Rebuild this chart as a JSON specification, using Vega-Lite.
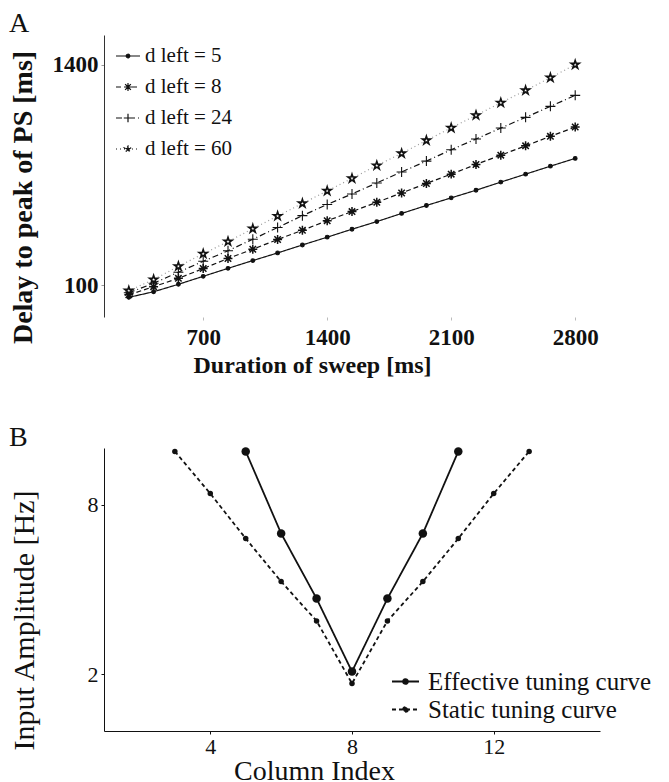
{
  "$schema": "https://vega.github.io/schema/vega-lite/v6.json",
  "background": "white",
  "padding": {"left": 9, "top": 10, "right": 5, "bottom": 0},
  "bounds": "flush",
  "spacing": 131,
  "resolve": {
    "scale": {"strokeDash": "independent"},
    "legend": {"strokeDash": "independent"}
  },
  "config": {
    "font": "Liberation Serif",
    "view": {"stroke": null},
    "axis": {"grid": false, "labelColor": "#111", "titleColor": "#111", "domainColor": "#111", "tickColor": "#111"}
  },
  "vconcat": [
    {
      "width": 496,
      "height": 282,
      "title": {"text": "A", "anchor": "start", "fontSize": 28, "fontWeight": "normal", "offset": -3, "color": "#111"},
      "data": {
        "values": [
          {"duration": 280, "delay": 29, "dleft": "5"}, {"duration": 420, "delay": 62, "dleft": "5"}, {"duration": 560, "delay": 106, "dleft": "5"}, {"duration": 700, "delay": 153, "dleft": "5"}, {"duration": 840, "delay": 200, "dleft": "5"}, {"duration": 980, "delay": 246, "dleft": "5"}, {"duration": 1120, "delay": 291, "dleft": "5"}, {"duration": 1260, "delay": 338, "dleft": "5"}, {"duration": 1400, "delay": 384, "dleft": "5"}, {"duration": 1540, "delay": 431, "dleft": "5"}, {"duration": 1680, "delay": 476, "dleft": "5"}, {"duration": 1820, "delay": 524, "dleft": "5"}, {"duration": 1960, "delay": 571, "dleft": "5"}, {"duration": 2100, "delay": 616, "dleft": "5"}, {"duration": 2240, "delay": 661, "dleft": "5"}, {"duration": 2380, "delay": 709, "dleft": "5"}, {"duration": 2520, "delay": 756, "dleft": "5"}, {"duration": 2660, "delay": 803, "dleft": "5"}, {"duration": 2800, "delay": 849, "dleft": "5"},
          {"duration": 280, "delay": 44, "dleft": "8"}, {"duration": 420, "delay": 92, "dleft": "8"}, {"duration": 560, "delay": 141, "dleft": "8"}, {"duration": 700, "delay": 199, "dleft": "8"}, {"duration": 840, "delay": 258, "dleft": "8"}, {"duration": 980, "delay": 313, "dleft": "8"}, {"duration": 1120, "delay": 370, "dleft": "8"}, {"duration": 1260, "delay": 425, "dleft": "8"}, {"duration": 1400, "delay": 481, "dleft": "8"}, {"duration": 1540, "delay": 535, "dleft": "8"}, {"duration": 1680, "delay": 590, "dleft": "8"}, {"duration": 1820, "delay": 645, "dleft": "8"}, {"duration": 1960, "delay": 701, "dleft": "8"}, {"duration": 2100, "delay": 756, "dleft": "8"}, {"duration": 2240, "delay": 813, "dleft": "8"}, {"duration": 2380, "delay": 868, "dleft": "8"}, {"duration": 2520, "delay": 923, "dleft": "8"}, {"duration": 2660, "delay": 979, "dleft": "8"}, {"duration": 2800, "delay": 1034, "dleft": "8"},
          {"duration": 280, "delay": 56, "dleft": "24"}, {"duration": 420, "delay": 112, "dleft": "24"}, {"duration": 560, "delay": 177, "dleft": "24"}, {"duration": 700, "delay": 242, "dleft": "24"}, {"duration": 840, "delay": 304, "dleft": "24"}, {"duration": 980, "delay": 372, "dleft": "24"}, {"duration": 1120, "delay": 441, "dleft": "24"}, {"duration": 1260, "delay": 511, "dleft": "24"}, {"duration": 1400, "delay": 577, "dleft": "24"}, {"duration": 1540, "delay": 639, "dleft": "24"}, {"duration": 1680, "delay": 704, "dleft": "24"}, {"duration": 1820, "delay": 769, "dleft": "24"}, {"duration": 1960, "delay": 833, "dleft": "24"}, {"duration": 2100, "delay": 900, "dleft": "24"}, {"duration": 2240, "delay": 963, "dleft": "24"}, {"duration": 2380, "delay": 1028, "dleft": "24"}, {"duration": 2520, "delay": 1091, "dleft": "24"}, {"duration": 2660, "delay": 1156, "dleft": "24"}, {"duration": 2800, "delay": 1221, "dleft": "24"},
          {"duration": 280, "delay": 68, "dleft": "60"}, {"duration": 420, "delay": 134, "dleft": "60"}, {"duration": 560, "delay": 212, "dleft": "60"}, {"duration": 700, "delay": 286, "dleft": "60"}, {"duration": 840, "delay": 358, "dleft": "60"}, {"duration": 980, "delay": 434, "dleft": "60"}, {"duration": 1120, "delay": 509, "dleft": "60"}, {"duration": 1260, "delay": 583, "dleft": "60"}, {"duration": 1400, "delay": 657, "dleft": "60"}, {"duration": 1540, "delay": 731, "dleft": "60"}, {"duration": 1680, "delay": 807, "dleft": "60"}, {"duration": 1820, "delay": 878, "dleft": "60"}, {"duration": 1960, "delay": 955, "dleft": "60"}, {"duration": 2100, "delay": 1029, "dleft": "60"}, {"duration": 2240, "delay": 1103, "dleft": "60"}, {"duration": 2380, "delay": 1177, "dleft": "60"}, {"duration": 2520, "delay": 1250, "dleft": "60"}, {"duration": 2660, "delay": 1325, "dleft": "60"}, {"duration": 2800, "delay": 1402, "dleft": "60"}
        ]
      },
      "encoding": {
        "x": {
          "field": "duration", "type": "quantitative",
          "scale": {"domain": [140, 2940], "nice": false, "zero": false},
          "axis": {"title": "Duration of sweep [ms]", "values": [700, 1400, 2100, 2800], "format": "d", "domain": false, "tickSize": 3, "tickColor": "#bbb", "labelFontSize": 23, "labelFontWeight": "bold", "labelPadding": 6, "titleFontSize": 24, "titleFontWeight": "bold", "titlePadding": 4, "titleX": 208}
        },
        "y": {
          "field": "delay", "type": "quantitative",
          "scale": {"domain": [-87, 1577], "nice": false, "zero": false},
          "axis": {"title": "Delay to peak of PS [ms]", "values": [100, 1400], "format": "d", "tickSize": 3, "tickColor": "#999", "domainColor": "#333", "labelFontSize": 23, "labelFontWeight": "bold", "labelPadding": 3, "titleFontSize": 28, "titleFontWeight": "bold", "titlePadding": 15, "titleY": 162}
        }
      },
      "layer": [
        {
          "mark": {"type": "line", "strokeWidth": 1.2},
          "encoding": {
            "stroke": {"condition": {"test": "datum.dleft === '60'", "value": "#999"}, "value": "#111"},
            "strokeDash": {
              "field": "dleft", "type": "nominal",
              "scale": {"domain": ["5", "8", "24", "60"], "range": [[1, 0], [5, 3], [6, 3, 1, 3], [1, 3]]},
              "legend": {
                "orient": "none", "legendX": 11, "legendY": 8, "title": null, "padding": 0,
                "symbolSize": 576, "labelExpr": "'d left = ' + datum.label", "labelFontSize": 21, "labelOffset": 4, "rowPadding": 8, "labelColor": "#111",
                "symbolStrokeColor": "#111", "symbolFillColor": "#111", "symbolStrokeWidth": 1.2,
                "symbolType": {"expr": "datum.value === '5' ? 'M-1,0L1,0M0.15,0A0.15,0.15,0,1,1,-0.15,0A0.15,0.15,0,1,1,0.15,0Z' : datum.value === '8' ? 'M-1,0L1,0M0,0L0.33,0M0,0L-0.33,0M0,0L0,0.33M0,0L0,-0.33M0,0L0.24,0.24M0,0L-0.24,-0.24M0,0L-0.24,0.24M0,0L0.24,-0.24' : datum.value === '24' ? 'M-1,0L1,0M0,0L0.35,0M0,0L-0.35,0M0,0L0,0.35M0,0L0,-0.35' : 'M-1,0L1,0M0,-0.3L0.067,-0.093L0.285,-0.093L0.109,0.035L0.176,0.243L0,0.115L-0.176,0.243L-0.109,0.035L-0.285,-0.093L-0.067,-0.093Z'"}
              }
            }
          }
        },
        {
          "mark": {"type": "point", "opacity": 1, "stroke": "#111"},
          "encoding": {
            "shape": {
              "condition": [
                {"test": "datum.dleft === '5'", "value": "circle"},
                {"test": "datum.dleft === '8'", "value": "M-1,0L1,0M0,-1L0,1M-0.72,-0.72L0.72,0.72M-0.72,0.72L0.72,-0.72"},
                {"test": "datum.dleft === '24'", "value": "M-1,0L1,0M0,-1L0,1"}
              ],
              "value": "M0,-1L0.2245,-0.309L0.951,-0.309L0.363,0.118L0.588,0.809L0,0.382L-0.588,0.809L-0.363,0.118L-0.951,-0.309L-0.2245,-0.309Z"
            },
            "size": {
              "condition": [
                {"test": "datum.dleft === '5'", "value": 14},
                {"test": "datum.dleft === '8'", "value": 80},
                {"test": "datum.dleft === '24'", "value": 100}
              ],
              "value": 72
            },
            "strokeWidth": {
              "condition": [
                {"test": "datum.dleft === '8'", "value": 1.5},
                {"test": "datum.dleft === '60'", "value": 1.6}
              ],
              "value": 1.1
            },
            "fill": {
              "condition": [
                {"test": "datum.dleft === '5'", "value": "#111"},
                {"test": "datum.dleft === '60'", "value": "white"}
              ],
              "value": "transparent"
            }
          }
        }
      ]
    },
    {
      "width": 496,
      "height": 283,
      "title": {"text": "B", "anchor": "start", "fontSize": 28, "fontWeight": "normal", "offset": -5, "color": "#111"},
      "data": {
        "values": [
          {"col": 5, "amp": 9.88, "curve": "Effective tuning curve"}, {"col": 6, "amp": 6.98, "curve": "Effective tuning curve"}, {"col": 7, "amp": 4.68, "curve": "Effective tuning curve"}, {"col": 8, "amp": 2.1, "curve": "Effective tuning curve"}, {"col": 9, "amp": 4.68, "curve": "Effective tuning curve"}, {"col": 10, "amp": 6.98, "curve": "Effective tuning curve"}, {"col": 11, "amp": 9.88, "curve": "Effective tuning curve"},
          {"col": 3, "amp": 9.88, "curve": "Static tuning curve"}, {"col": 4, "amp": 8.39, "curve": "Static tuning curve"}, {"col": 5, "amp": 6.8, "curve": "Static tuning curve"}, {"col": 6, "amp": 5.28, "curve": "Static tuning curve"}, {"col": 7, "amp": 3.89, "curve": "Static tuning curve"}, {"col": 8, "amp": 1.68, "curve": "Static tuning curve"}, {"col": 9, "amp": 3.89, "curve": "Static tuning curve"}, {"col": 10, "amp": 5.28, "curve": "Static tuning curve"}, {"col": 11, "amp": 6.8, "curve": "Static tuning curve"}, {"col": 12, "amp": 8.39, "curve": "Static tuning curve"}, {"col": 13, "amp": 9.88, "curve": "Static tuning curve"}
        ]
      },
      "encoding": {
        "x": {
          "field": "col", "type": "quantitative",
          "scale": {"domain": [1, 15], "nice": false, "zero": false},
          "axis": {"title": "Column Index", "values": [4, 8, 12], "tickSize": 3, "labelFontSize": 22, "labelPadding": 2, "titleFontSize": 28, "titleFontWeight": "normal", "titleBaseline": "alphabetic", "titleY": 48, "titleX": 210}
        },
        "y": {
          "field": "amp", "type": "quantitative",
          "scale": {"domain": [0, 10], "nice": false, "zero": false},
          "axis": {"title": "Input Amplitude [Hz]", "values": [2, 8], "tickSize": 3, "labelFontSize": 22, "labelPadding": 3, "titleFontSize": 30, "titleFontWeight": "normal", "titlePadding": 48, "titleY": 172}
        }
      },
      "layer": [
        {
          "mark": {"type": "line", "strokeWidth": 1.8, "color": "#111"},
          "encoding": {
            "strokeDash": {
              "field": "curve", "type": "nominal",
              "scale": {"domain": ["Effective tuning curve", "Static tuning curve"], "range": [[1, 0], [4, 3]]},
              "legend": {
                "orient": "none", "legendX": 287, "legendY": 219, "title": null, "padding": 0,
                "symbolSize": 729, "labelFontSize": 25, "labelOffset": 8, "rowPadding": 0, "labelColor": "#111", "labelLimit": 400,
                "symbolStrokeColor": "#111", "symbolFillColor": "#111", "symbolStrokeWidth": 1.8,
                "symbolType": "M-1,0L1,0M0.18,0A0.18,0.18,0,1,1,-0.18,0A0.18,0.18,0,1,1,0.18,0Z"
              }
            }
          }
        },
        {
          "mark": {"type": "point", "filled": true, "color": "#111", "opacity": 1},
          "encoding": {
            "size": {"condition": {"test": "datum.curve === 'Effective tuning curve'", "value": 72}, "value": 30}
          }
        }
      ]
    }
  ]
}
